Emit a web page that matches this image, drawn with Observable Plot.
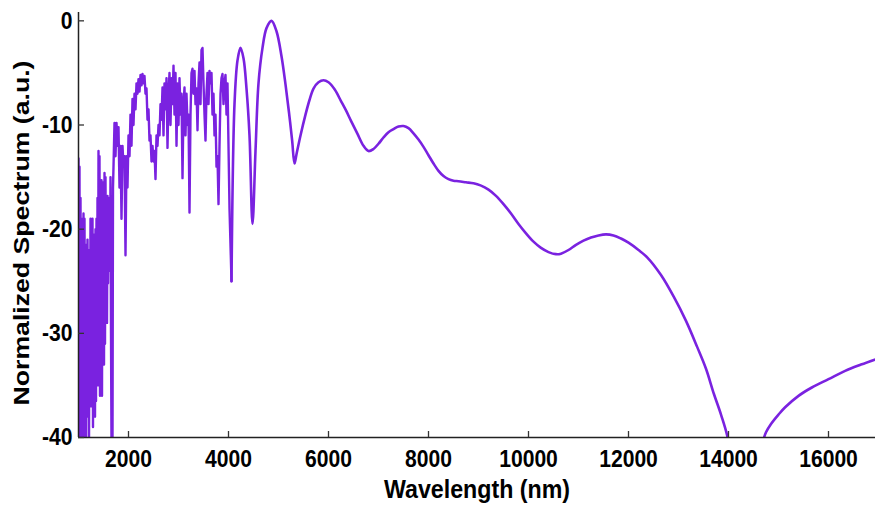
<!DOCTYPE html>
<html><head><meta charset="utf-8">
<script src="https://cdn.jsdelivr.net/npm/d3@7"></script>
<script src="https://cdn.jsdelivr.net/npm/@observablehq/plot@0.6"></script>
<style>body{margin:0;background:#fff;}</style>
</head><body><div id="chart"></div>
<script>
// Noisy short-wavelength part (nm, normalized dB units)
const noisyWavelength = [1000,1010,1020,1030,1040,1050,1060,1070,1080,1090,1100,1110,1120,1130,1140,1150,1160,1170,1180,1190,1200,1210,1220,1230,1240,1250,1260,1270,1280,1290,1300,1310,1320,1330,1340,1350,1360,1370,1380,1390,1400,1410,1420,1430,1440,1450,1460,1470,1480,1490,1500,1510,1520,1530,1540,1550,1560,1570,1580,1590,1600,1610,1620,1630,1640,1650,1660,1670,1680,1690,1700,1720,1740,1760,1780,1800,1820,1840,1860,1880,1900,1920,1940,1960,1980,2000,2020,2040,2060,2080,2100,2120,2140,2160,2180,2200,2220,2240,2260,2280,2300,2320,2340,2360,2380,2400,2420,2440,2460,2480,2500,2520,2540,2560,2580,2600,2620,2640,2660,2680,2700,2720,2740,2760,2780,2800,2820,2840,2860,2880,2900,2920,2940,2960,2980,3000,3020,3040,3060,3080,3100,3120,3140,3160,3180,3200,3220,3240,3260,3280,3300,3320,3340,3360,3380,3400,3420,3440,3460,3480,3500,3520,3540,3560,3580,3600,3620,3640,3660,3680,3700,3720,3740,3760,3780,3800,3820,3840,3860,3880,3900,3920,3940,3960,3980,4000,4020,4060];
const noisyValue = [-13.2,-36,-14,-40.5,-17,-33,-20,-40.5,-19,-36,-18.5,-41,-19,-35,-21.5,-41,-22,-31,-21,-38,-22,-41,-23,-33,-19,-37,-21,-36,-19,-39,-22,-34,-20.5,-38,-20,-36.5,-19,-33,-17,-35,-12.5,-29,-13,-36,-16,-34,-15.3,-36,-15.5,-30,-16,-33,-14.6,-31,-15,-28,-17,-29,-16.8,-25.2,-17,-22,-19,-24,-15,-30,-40.5,-22,-40.5,-16,-14,-9.8,-13,-9.8,-12,-10.2,-16,-12,-19,-12,-14,-13,-22.5,-13,-16,-11,-13,-9,-12,-7.5,-10,-7,-8.5,-6,-7,-5.6,-6.8,-5.2,-6.2,-5.1,-6,-5.3,-7,-6.5,-9.5,-8.5,-11.5,-11,-13.5,-12,-13.5,-12.5,-15.2,-11,-12,-10,-11,-8,-9.5,-6.4,-11,-6,-8.5,-5.5,-12.2,-7,-5,-10,-5.5,-8,-4.3,-9,-5,-12,-6,-10,-5.5,-9,-7,-15.1,-8,-6.4,-11,-7,-10,-9,-18.4,-9,-5,-4.6,-7,-4.8,-8,-6.5,-10.5,-6,-4,-8,-2.8,-2.6,-6,-9,-11.5,-7,-5,-8,-4.8,-6,-5,-9,-7,-11,-9,-14,-13,-17.6,-12,-7,-5.5,-5.1,-8,-6,-5.2,-9,-6,-12,-18,-25];
// Smooth long-wavelength part
const smoothWavelength = [4060,4120,4180,4240,4300,4360,4420,4480,4540,4600,4680,4760,4860,4960,5060,5140,5210,5273,5320,5360,5440,5540,5620,5700,5800,5900,6000,6125,6250,6350,6450,6575,6700,6800,6900,7000,7100,7200,7300,7400,7500,7600,7700,7800,7900,8000,8100,8200,8300,8400,8500,8600,8750,8900,9040,9200,9350,9500,9650,9800,9950,10100,10250,10400,10550,10650,10800,10950,11100,11250,11400,11550,11700,11850,12000,12200,12373,12650,12907,13150,13373,13550,13707,13850,13973,14100,14250,14350,14450,14600,14700,14750,14850,15000,15133,15400,15667,16000,16333,16650,16940];
const smoothValue = [-25,-8,-3.8,-2.6,-3.6,-6.5,-11,-19.5,-12.5,-6,-2.6,-0.7,0,-1,-3.4,-6.1,-8.8,-11.5,-13.7,-12.8,-11,-9,-7.6,-6.5,-5.9,-5.7,-5.9,-6.6,-7.7,-8.6,-9.6,-10.8,-12,-12.5,-12.3,-11.8,-11.2,-10.7,-10.4,-10.15,-10.1,-10.3,-10.8,-11.4,-12.1,-12.9,-13.7,-14.4,-14.9,-15.2,-15.35,-15.4,-15.5,-15.6,-15.8,-16.2,-16.8,-17.6,-18.5,-19.5,-20.4,-21.2,-21.8,-22.2,-22.4,-22.35,-22,-21.5,-21.1,-20.8,-20.6,-20.5,-20.6,-20.9,-21.3,-22,-22.7,-24.4,-26.5,-28.8,-31.3,-33.4,-35.8,-37.8,-39.8,-43.5,-50,-58,-50,-43,-40.2,-39.5,-38.7,-37.8,-37.1,-36,-35.2,-34.4,-33.6,-33,-32.5];
const xTicks = [2000,4000,6000,8000,10000,12000,14000,16000];
const yTicks = [0,-10,-20,-30,-40];
const xLabel = "Wavelength (nm)";
const yLabel = "Normalized Spectrum (a.u.)";

const noisy = noisyWavelength.map((w, i) => ({w, v: noisyValue[i]}));
const smooth = smoothWavelength.map((w, i) => ({w, v: smoothValue[i]}));
const font = '"Liberation Sans",Arial,Helvetica,sans-serif';
const lineColor = "#7a22e0";
const W = 875, H = 511, ML = 78, MR = 0, MT = 12, MB = 74, TICK = 6;

const chart = Plot.plot({
  width: W, height: H,
  marginLeft: ML, marginRight: MR, marginTop: MT, marginBottom: MB,
  x: {domain: [1000, 16940]},
  y: {domain: [-40, 0.8]},
  style: {fontFamily: font, fontSize: "24px", fontWeight: "bold", color: "#000", background: "#fff"},
  marks: [
    Plot.line(noisy, {x: "w", y: "v", stroke: lineColor, strokeWidth: 2.4, clip: true}),
    Plot.line(smooth, {x: "w", y: "v", stroke: lineColor, strokeWidth: 2.6, curve: "catmull-rom", clip: true}),
    Plot.ruleX([1000], {stroke: "#222", strokeWidth: 1.5}),
    Plot.ruleY([-40], {stroke: "#222", strokeWidth: 1.5}),
    // inward tick marks
    Plot.tickX(xTicks, {x: d => d, insetTop: (H - MT - MB) - TICK, stroke: "#333", strokeWidth: 1.3}),
    Plot.tickY(yTicks, {y: d => d, insetRight: (W - ML - MR) - TICK, stroke: "#333", strokeWidth: 1.3}),
    Plot.axisX({ticks: xTicks, tickSize: 0, tickPadding: 12, tickFormat: d => String(d), fontSize: 24, fontWeight: "bold", label: null}),
    Plot.axisY({ticks: yTicks, tickSize: 0, tickPadding: 6, tickFormat: d => String(d), fontSize: 24, fontWeight: "bold", label: null}),
    Plot.text([xLabel], {text: d => d, frameAnchor: "bottom", dy: 52, lineAnchor: "middle", textAnchor: "middle", fontSize: 26, fontWeight: "bold", fontFamily: font}),
    Plot.text([yLabel], {text: d => d, frameAnchor: "left", rotate: -90, dx: -57, dy: 8, lineAnchor: "middle", textAnchor: "middle", fontSize: 22, fontWeight: "bold", fontFamily: font})
  ]
});
document.getElementById("chart").appendChild(chart);

// Condense tick labels horizontally like the reference's narrow rendering
d3.select(chart).selectAll('g[aria-label="x-axis tick label"] text, g[aria-label="y-axis tick label"] text').each(function () {
  const L = this.getComputedTextLength();
  this.setAttribute("textLength", L * 0.88);
  this.setAttribute("lengthAdjust", "spacingAndGlyphs");
});
d3.select(chart).selectAll("text").each(function () {
  if (this.textContent === xLabel) {
    this.setAttribute("textLength", 186);
    this.setAttribute("lengthAdjust", "spacingAndGlyphs");
  } else if (this.textContent === yLabel) {
    this.setAttribute("textLength", 345);
    this.setAttribute("lengthAdjust", "spacingAndGlyphs");
  }
});
</script>
</body></html>
